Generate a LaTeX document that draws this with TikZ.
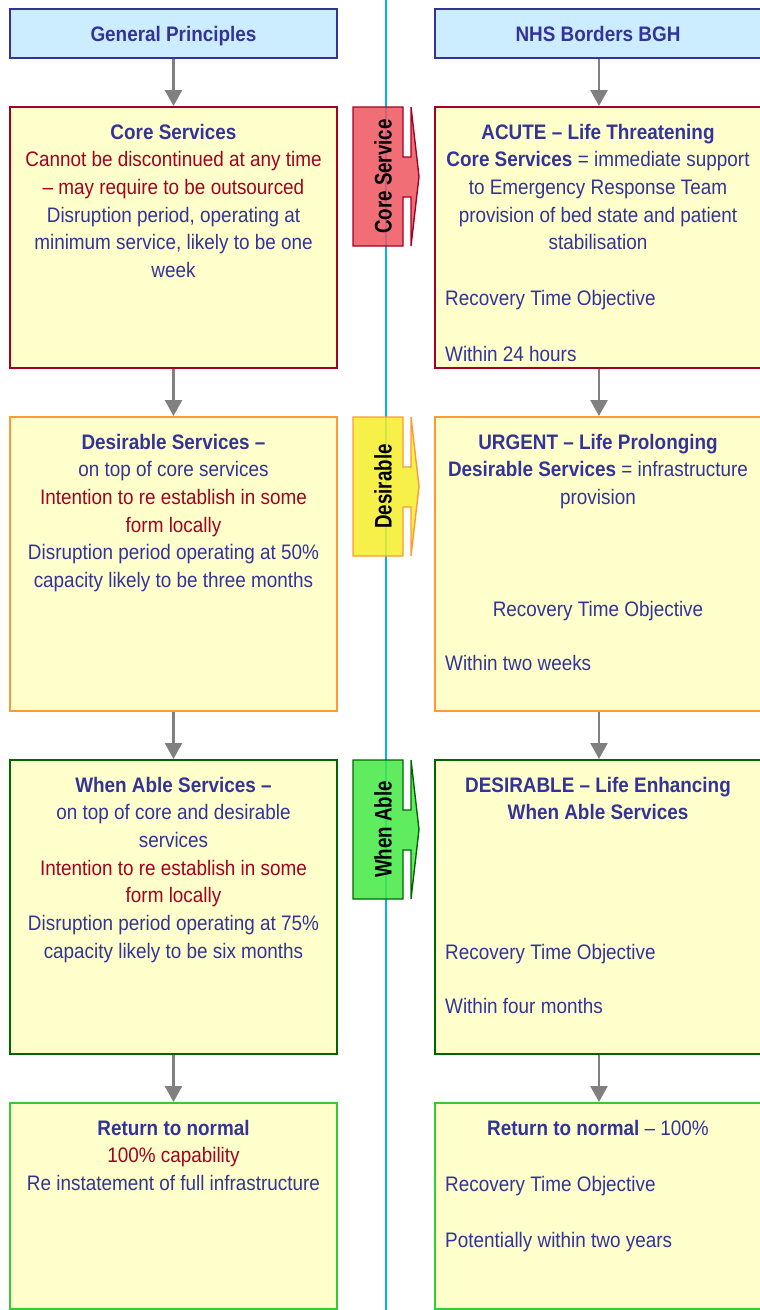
\documentclass[tikz,border=0pt]{standalone}
\usepackage{fontspec}
\setmainfont{Liberation Sans}[FakeStretch=0.9]
\newfontfamily\tagfont{Liberation Sans}[FakeStretch=0.78]
\usetikzlibrary{arrows.meta}

\definecolor{nblue}{HTML}{333399}
\definecolor{nred}{HTML}{A50021}
\definecolor{hdrfill}{HTML}{CCECFF}
\definecolor{boxfill}{HTML}{FFFFCC}
\definecolor{brdred}{HTML}{A50021}
\definecolor{brdorange}{HTML}{FF9933}
\definecolor{brddkgreen}{HTML}{006600}
\definecolor{brdgreen}{HTML}{33CC33}
\definecolor{divider}{HTML}{00B4F0}
\definecolor{arrgray}{HTML}{808080}
\definecolor{tagred}{HTML}{F05560}
\definecolor{tagyellow}{HTML}{F5EE2A}
\definecolor{taggreen}{HTML}{44E944}

\begin{document}
\begin{tikzpicture}[x=1pt,y=-1pt,
  hdr/.style={draw=nblue, line width=2pt, fill=hdrfill, minimum height=49pt, inner sep=0pt},
  box/.style={line width=2pt, fill=boxfill, inner sep=0pt},
  conn/.style={draw=arrgray, line width=2.6pt, -{Triangle[width=17pt,length=16pt]}},
  tl/.style={anchor=base, inner sep=0pt, text=nblue, font=\fontsize{21}{25}\selectfont},
  tlb/.style={tl, font=\fontsize{21}{25}\selectfont\bfseries},
  tlr/.style={tl, text=nred},
  tll/.style={tl, anchor=base west},
  hdrtext/.style={tl, font=\fontsize{21}{25}\selectfont\bfseries},
  tagtext/.style={rotate=90, anchor=base, inner sep=0pt, text=black, font=\tagfont\fontsize{24}{28}\selectfont\bfseries}
]
\useasboundingbox (0,0) rectangle (760,1310);
\clip (0,0) rectangle (760,1310);
\fill[white] (0,0) rectangle (760,1310);

% central divider
\draw[divider, line width=2pt] (386,0) -- (386,1310);

% column headers
\node[hdr, minimum width=327pt] (HL) at (173.5,33.5) {};
\node[hdr, minimum width=328pt] (HR) at (599,33.5) {};
\node[hdrtext] (HLt) at (173.5,41.5) {General Principles};
\node[hdrtext] (HRt) at (598,41.5) {NHS Borders BGH};

% left column boxes
\node[box, draw=brdred,     minimum width=327pt, minimum height=261pt] (L1) at (173.5,237.5) {};
\node[box, draw=brdorange,  minimum width=327pt, minimum height=294pt] (L2) at (173.5,564) {};
\node[box, draw=brddkgreen, minimum width=327pt, minimum height=294pt] (L3) at (173.5,907) {};
\node[box, draw=brdgreen,   minimum width=327pt, minimum height=206pt] (L4) at (173.5,1206) {};

% right column boxes
\node[box, draw=brdred,     minimum width=328pt, minimum height=261pt] (R1) at (599,237.5) {};
\node[box, draw=brdorange,  minimum width=328pt, minimum height=294pt] (R2) at (599,564) {};
\node[box, draw=brddkgreen, minimum width=328pt, minimum height=294pt] (R3) at (599,907) {};
\node[box, draw=brdgreen,   minimum width=328pt, minimum height=206pt] (R4) at (599,1206) {};

% connectors
\draw[conn] (HL.south) -- (L1.north);
\draw[conn] (L1.south) -- (L2.north);
\draw[conn] (L2.south) -- (L3.north);
\draw[conn] (L3.south) -- (L4.north);
\draw[conn] (HR.south) -- (R1.north);
\draw[conn] (R1.south) -- (R2.north);
\draw[conn] (R2.south) -- (R3.north);
\draw[conn] (R3.south) -- (R4.north);

% level tags between the columns
\foreach \T/\fc/\dc/\lab/\nm in {107/tagred/brdred/Core Service/tagA,
                                 417/tagyellow/brdorange/Desirable/tagB,
                                 760/taggreen/brddkgreen/When Able/tagC} {
  \draw[draw=\dc, fill=\fc, fill opacity=0.85, line width=1.4pt, line join=miter]
    (353,\T) -- (403,\T) -- (403,\T+50) -- (411,\T+50) -- (411,\T)
    -- (419,\T+69.5) -- (411,\T+139) -- (411,\T+90) -- (403,\T+90)
    -- (403,\T+139) -- (353,\T+139) -- cycle;
  \node[tagtext] (\nm) at (391.5,\T+69.5) {\lab};
}

% left column texts
\node[tlb] (l1a) at (173.5,139)   {Core Services};
\node[tlr] (l1b) at (173.5,166.7) {Cannot be discontinued at any time};
\node[tlr] (l1c) at (173.5,194.4) {– may require to be outsourced};
\node[tl]  (l1d) at (173.5,222.1) {Disruption period, operating at};
\node[tl]  (l1e) at (173.5,249.8) {minimum service, likely to be one};
\node[tl]  (l1f) at (173.5,277.5) {week};

\node[tlb] (l2a) at (173.5,449)   {Desirable Services –};
\node[tl]  (l2b) at (173.5,476.7) {on top of core services};
\node[tlr] (l2c) at (173.5,504.4) {Intention to re establish in some};
\node[tlr] (l2d) at (173.5,532.1) {form locally};
\node[tl]  (l2e) at (173.5,559.8) {Disruption period operating at 50\%};
\node[tl]  (l2f) at (173.5,587.5) {capacity likely to be three months};

\node[tlb] (l3a) at (173.5,792)   {When Able Services –};
\node[tl]  (l3b) at (173.5,819.7) {on top of core and desirable};
\node[tl]  (l3c) at (173.5,847.4) {services};
\node[tlr] (l3d) at (173.5,875.1) {Intention to re establish in some};
\node[tlr] (l3e) at (173.5,902.8) {form locally};
\node[tl]  (l3f) at (173.5,930.5) {Disruption period operating at 75\%};
\node[tl]  (l3g) at (173.5,958.2) {capacity likely to be six months};

\node[tlb] (l4a) at (173.5,1135)   {Return to normal};
\node[tlr] (l4b) at (173.5,1162.7) {100\% capability};
\node[tl]  (l4c) at (173.5,1190.4) {Re instatement of full infrastructure};

% right column texts
\node[tlb] (r1a) at (598,139)   {ACUTE – Life Threatening};
\node[tl]  (r1b) at (598,166.7) {\textbf{Core Services} = immediate support};
\node[tl]  (r1c) at (598,194.4) {to Emergency Response Team};
\node[tl]  (r1d) at (598,222.1) {provision of bed state and patient};
\node[tl]  (r1e) at (598,249.8) {stabilisation};
\node[tll] (r1f) at (445,305)   {Recovery Time Objective};
\node[tll] (r1g) at (445,361)   {Within 24 hours};

\node[tlb] (r2a) at (598,449)   {URGENT – Life Prolonging};
\node[tl]  (r2b) at (598,476.7) {\textbf{Desirable Services} = infrastructure};
\node[tl]  (r2c) at (598,504.4) {provision};
\node[tl]  (r2d) at (598,616)   {Recovery Time Objective};
\node[tll] (r2e) at (445,670)   {Within two weeks};

\node[tlb] (r3a) at (598,792)   {DESIRABLE – Life Enhancing};
\node[tlb] (r3b) at (598,819.7) {When Able Services};
\node[tll] (r3c) at (445,959)   {Recovery Time Objective};
\node[tll] (r3d) at (445,1013)  {Within four months};

\node[tl]  (r4a) at (598,1135)  {\textbf{Return to normal} – 100\%};
\node[tll] (r4b) at (445,1191)  {Recovery Time Objective};
\node[tll] (r4c) at (445,1247)  {Potentially within two years};
\end{tikzpicture}
\end{document}
